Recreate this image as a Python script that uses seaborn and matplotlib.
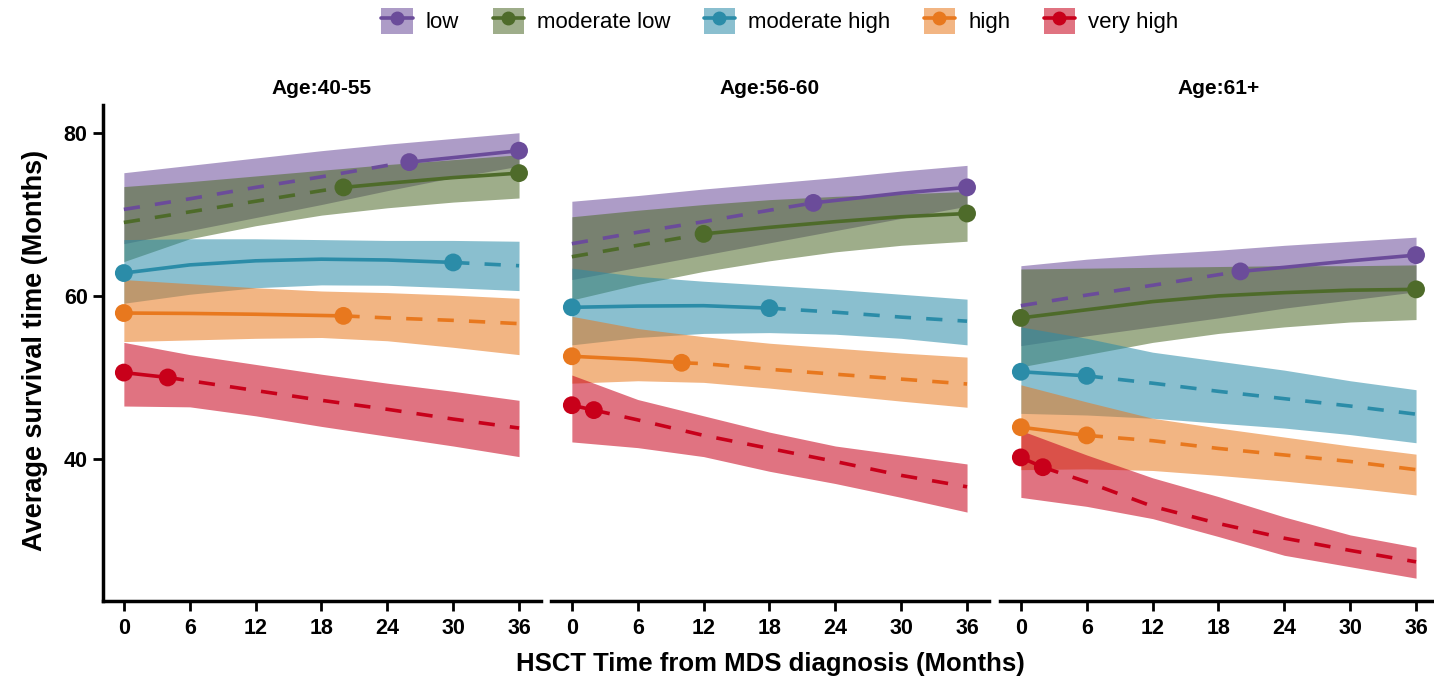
import matplotlib
matplotlib.use("Agg")
import matplotlib.pyplot as plt
import seaborn as sns
from matplotlib.patches import Patch
from matplotlib.lines import Line2D
from matplotlib.legend_handler import HandlerTuple

sns.set_theme(style="white")
plt.rcParams['font.family'] = ['Liberation Sans', 'DejaVu Sans']
plt.rcParams['text.color'] = 'black'
plt.rcParams['axes.labelcolor'] = 'black'
plt.rcParams['xtick.color'] = 'black'
plt.rcParams['ytick.color'] = 'black'

# ---------------- data ----------------
X = [0, 6, 12, 18, 24, 30, 36]
GROUPS = ["low", "moderate low", "moderate high", "high", "very high"]
AGES = ["Age:40-55", "Age:56-60", "Age:61+"]
X_TICKS = [0, 6, 12, 18, 24, 30, 36]
Y_TICKS = [40, 60, 80]

# Age 40-55
mean_40_55 = {
    "low":           [70.6, 71.9, 73.3, 74.6, 76.0, 76.95, 77.8],
    "moderate low":  [69.0, 70.3, 71.6, 72.9, 73.8, 74.5, 75.05],
    "moderate high": [62.8, 63.8, 64.3, 64.5, 64.4, 64.1, 63.7],
    "high":          [57.9, 57.85, 57.75, 57.6, 57.3, 57.0, 56.6],
    "very high":     [50.6, 49.6, 48.4, 47.2, 46.1, 44.9, 43.8],
}
lower_40_55 = {
    "low":           [66.4, 68.0, 69.6, 71.2, 72.9, 74.5, 75.9],
    "moderate low":  [64.2, 67.0, 68.6, 69.9, 70.8, 71.5, 72.0],
    "moderate high": [59.1, 60.2, 61.0, 61.35, 61.3, 61.0, 60.65],
    "high":          [54.4, 54.6, 54.8, 54.9, 54.5, 53.7, 52.8],
    "very high":     [46.5, 46.4, 45.3, 44.0, 42.8, 41.6, 40.3],
}
upper_40_55 = {
    "low":           [75.1, 76.0, 76.9, 77.8, 78.6, 79.3, 80.0],
    "moderate low":  [73.4, 74.0, 74.7, 75.4, 76.1, 76.7, 77.3],
    "moderate high": [66.9, 67.0, 67.0, 66.9, 66.8, 66.8, 66.7],
    "high":          [62.0, 61.5, 61.0, 60.6, 60.4, 60.1, 59.7],
    "very high":     [54.3, 52.8, 51.6, 50.4, 49.3, 48.3, 47.2],
}
point_x_40_55 = {"low": [26, 36], "moderate low": [20, 36], "moderate high": [0, 30],
                 "high": [0, 20], "very high": [0, 4]}
point_y_40_55 = {"low": [76.4, 77.8], "moderate low": [73.3, 75.05], "moderate high": [62.8, 64.1],
                 "high": [57.9, 57.55], "very high": [50.6, 50.0]}

# Age 56-60
mean_56_60 = {
    "low":           [66.4, 67.8, 69.1, 70.5, 71.7, 72.6, 73.3],
    "moderate low":  [64.8, 66.2, 67.6, 68.4, 69.1, 69.7, 70.1],
    "moderate high": [58.6, 58.75, 58.8, 58.5, 58.0, 57.4, 56.9],
    "high":          [52.6, 52.2, 51.7, 51.0, 50.4, 49.8, 49.2],
    "very high":     [46.6, 44.8, 42.9, 41.3, 39.7, 38.0, 36.6],
}
lower_56_60 = {
    "low":           [62.0, 63.5, 65.0, 66.5, 68.0, 69.5, 71.0],
    "moderate low":  [59.5, 61.4, 63.0, 64.3, 65.4, 66.2, 66.7],
    "moderate high": [54.0, 54.9, 55.4, 55.5, 55.3, 54.8, 54.0],
    "high":          [49.3, 49.6, 49.4, 48.7, 47.9, 47.1, 46.35],
    "very high":     [42.1, 41.4, 40.3, 38.5, 37.0, 35.3, 33.5],
}
upper_56_60 = {
    "low":           [71.6, 72.3, 73.1, 73.8, 74.5, 75.3, 76.0],
    "moderate low":  [69.7, 70.5, 71.2, 71.8, 72.2, 72.5, 72.8],
    "moderate high": [63.4, 62.4, 61.8, 61.3, 60.8, 60.2, 59.6],
    "high":          [57.5, 56.0, 55.0, 54.2, 53.6, 53.0, 52.5],
    "very high":     [50.3, 47.3, 45.3, 43.3, 41.6, 40.5, 39.4],
}
point_x_56_60 = {"low": [22, 36], "moderate low": [12, 36], "moderate high": [0, 18],
                 "high": [0, 10], "very high": [0, 2]}
point_y_56_60 = {"low": [71.4, 73.3], "moderate low": [67.6, 70.1], "moderate high": [58.6, 58.5],
                 "high": [52.6, 51.8], "very high": [46.6, 46.0]}

# Age 61+
mean_61 = {
    "low":           [58.8, 60.1, 61.3, 62.6, 63.5, 64.3, 65.0],
    "moderate low":  [57.3, 58.3, 59.3, 60.0, 60.4, 60.7, 60.8],
    "moderate high": [50.7, 50.2, 49.3, 48.3, 47.4, 46.5, 45.5],
    "high":          [43.9, 42.9, 42.25, 41.3, 40.5, 39.7, 38.7],
    "very high":     [40.2, 37.2, 34.2, 32.1, 30.3, 28.8, 27.4],
}
lower_61 = {
    "low":           [53.9, 55.1, 56.2, 57.3, 58.5, 59.5, 60.5],
    "moderate low":  [51.3, 52.8, 54.3, 55.4, 56.2, 56.8, 57.1],
    "moderate high": [45.6, 45.4, 45.0, 44.4, 43.8, 43.0, 42.0],
    "high":          [38.7, 38.8, 38.6, 38.0, 37.3, 36.5, 35.6],
    "very high":     [35.3, 34.2, 32.7, 30.5, 28.2, 26.8, 25.4],
}
upper_61 = {
    "low":           [63.7, 64.5, 65.1, 65.6, 66.2, 66.7, 67.2],
    "moderate low":  [63.3, 63.4, 63.5, 63.6, 63.7, 63.7, 63.8],
    "moderate high": [56.2, 54.8, 53.1, 52.0, 50.9, 49.6, 48.5],
    "high":          [49.1, 47.0, 45.0, 43.8, 42.7, 41.6, 40.6],
    "very high":     [43.5, 40.5, 37.7, 35.4, 32.9, 30.7, 29.2],
}
point_x_61 = {"low": [20, 36], "moderate low": [0, 36], "moderate high": [0, 6],
              "high": [0, 6], "very high": [0, 2]}
point_y_61 = {"low": [63.0, 65.0], "moderate low": [57.3, 60.8], "moderate high": [50.7, 50.2],
              "high": [43.9, 42.9], "very high": [40.2, 39.0]}

MEANS = [mean_40_55, mean_56_60, mean_61]
LOWERS = [lower_40_55, lower_56_60, lower_61]
UPPERS = [upper_40_55, upper_56_60, upper_61]
PX = [point_x_40_55, point_x_56_60, point_x_61]
PY = [point_y_40_55, point_y_56_60, point_y_61]

# ---------------- style ----------------
COLORS = {"low": "#6B4C9A", "moderate low": "#4E6B2A", "moderate high": "#2B8CA8",
          "high": "#E8781E", "very high": "#C8001A"}
FILL_ALPHA = 0.55
LW = 2.6
DASH = (0, (4.5, 4.2))
W, H = 1434, 686

fig = plt.figure(figsize=(W / 100, H / 100), dpi=100)
lefts_px = [103, 551, 1000]
ax_w_px = 438
bottom_px, top_px = 601, 105

axes = []
for i, lp in enumerate(lefts_px):
    ax = fig.add_axes([lp / W, (H - bottom_px) / H, ax_w_px / W, (bottom_px - top_px) / H])
    axes.append(ax)
    means, lows, ups, pxs, pys = MEANS[i], LOWERS[i], UPPERS[i], PX[i], PY[i]
    for g in GROUPS:
        ax.fill_between(X, lows[g], ups[g], color=COLORS[g], alpha=FILL_ALPHA, lw=0, zorder=1)
    for g in GROUPS:
        pts = {x: y for x, y in zip(X, means[g])}
        for x, y in zip(pxs[g], pys[g]):
            pts[x] = y
        xs = sorted(pts)
        x0, x1 = pxs[g]
        segs = [
            ([x for x in xs if x <= x0], "dash"),
            ([x for x in xs if x0 <= x <= x1], "solid"),
            ([x for x in xs if x >= x1], "dash"),
        ]
        for sx, kind in segs:
            if len(sx) < 2:
                continue
            sy = [pts[x] for x in sx]
            sns.lineplot(x=sx, y=sy, ax=ax, color=COLORS[g], linewidth=LW,
                         linestyle="-" if kind == "solid" else DASH, zorder=3,
                         solid_capstyle="butt", dash_capstyle="butt")
        sns.scatterplot(x=pxs[g], y=pys[g], ax=ax, color=COLORS[g], s=165,
                        edgecolor="none", linewidth=0, zorder=5)

    ax.set_xlim(-1.9, 38.0)
    ax.set_ylim(22.6, 83.4)
    ax.set_xticks(X_TICKS)
    ax.set_xticklabels([str(t) for t in X_TICKS], fontsize=15.5, fontweight="bold")
    ax.set_title(AGES[i], fontsize=15, fontweight="bold", pad=8)
    ax.set_xlabel("")
    ax.set_ylabel("")
    for s in ["top", "right"]:
        ax.spines[s].set_visible(False)
    ax.spines["bottom"].set_linewidth(2.5)
    ax.spines["bottom"].set_color("black")
    ax.tick_params(axis="x", direction="out", length=7, width=2, color="black", pad=5,
                   bottom=True)
    if i == 0:
        ax.spines["left"].set_linewidth(2.5)
        ax.spines["left"].set_color("black")
        ax.set_yticks(Y_TICKS)
        ax.set_yticklabels([str(t) for t in Y_TICKS], fontsize=15.5, fontweight="bold")
        ax.tick_params(axis="y", direction="out", length=7, width=2, color="black", pad=4,
                       left=True)
    else:
        ax.spines["left"].set_visible(False)
        ax.set_yticks([])
    ax.grid(False)
    ax.set_facecolor("none")

fig.text(770 / W, 1 - 664 / H, "HSCT Time from MDS diagnosis (Months)",
         ha="center", va="center", fontsize=18.5, fontweight="bold")
fig.text(35 / W, 1 - 350 / H, "Average survival time (Months)",
         ha="center", va="center", rotation=90, fontsize=19.5, fontweight="bold")

handles = []
for g in GROUPS:
    patch = Patch(facecolor=COLORS[g], alpha=FILL_ALPHA, edgecolor="none")
    line = Line2D([], [], color=COLORS[g], lw=LW, marker="o", markersize=9)
    handles.append((patch, line))
fig.legend(handles, GROUPS, handler_map={tuple: HandlerTuple(ndivide=1, pad=0)},
           loc="center", bbox_to_anchor=(780 / W, 1 - 21 / H), ncol=5, frameon=False,
           fontsize=16, handlelength=1.4, handleheight=1.4, handletextpad=0.6,
           columnspacing=1.5, borderaxespad=0)

fig.savefig("out.png", dpi=100)
